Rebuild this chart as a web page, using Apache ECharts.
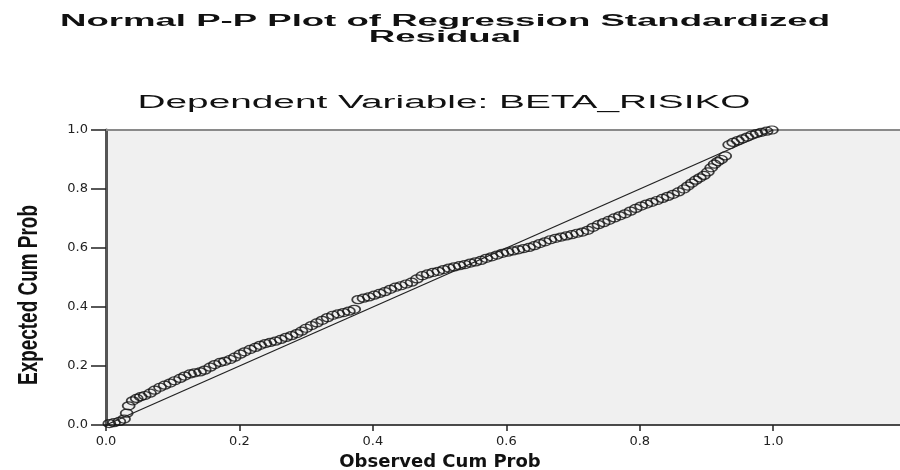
<!DOCTYPE html>
<html lang="en">
<head>
    <meta charset="UTF-8">
    <title>Normal P-P Plot</title>
    <script src="https://cdn.jsdelivr.net/npm/echarts@6/dist/echarts.min.js"></script>
</head>
<body style="margin:0;background:#fff;">
    <div id="main" style="width:900px;height:470px;"></div>
<script>
    // titles
    var titleLine1 = 'Normal P-P Plot of Regression Standardized';
    var titleLine2 = 'Residual';
    var subTitle = 'Dependent Variable: BETA_RISIKO';
    var yName = 'Expected Cum Prob';

    // ticks
    var xTicks = [0, 0.2, 0.4, 0.6, 0.8, 1.0];

    // observed cum prob (x) / expected cum prob (y)
    var observed = [
        0.005, 0.012, 0.020, 0.027, 0.031, 0.034, 0.040, 0.046, 0.052, 0.058,
        0.066, 0.073, 0.081, 0.088, 0.096, 0.103, 0.111, 0.118, 0.126, 0.133,
        0.141, 0.148, 0.156, 0.163, 0.171, 0.178, 0.186, 0.193, 0.201, 0.208,
        0.216, 0.224, 0.231, 0.239, 0.246, 0.254, 0.262, 0.270, 0.278, 0.286,
        0.293, 0.300, 0.308, 0.316, 0.324, 0.332, 0.340, 0.348, 0.356, 0.364,
        0.372, 0.378, 0.386, 0.394, 0.402, 0.410, 0.418, 0.426, 0.434, 0.442,
        0.450, 0.458, 0.466, 0.474, 0.482, 0.490, 0.498, 0.506, 0.514, 0.522,
        0.530, 0.538, 0.546, 0.554, 0.562, 0.570, 0.578, 0.586, 0.594, 0.602,
        0.610, 0.618, 0.626, 0.634, 0.642, 0.650, 0.658, 0.666, 0.674, 0.682,
        0.690, 0.698, 0.706, 0.714, 0.722, 0.730, 0.738, 0.746, 0.754, 0.762,
        0.770, 0.778, 0.786, 0.794, 0.802, 0.810, 0.818, 0.826, 0.834, 0.842,
        0.850, 0.858, 0.866, 0.872, 0.878, 0.884, 0.890, 0.896, 0.902, 0.907,
        0.912, 0.917, 0.922, 0.928, 0.934, 0.940, 0.947, 0.954, 0.961, 0.968,
        0.975, 0.982, 0.990, 0.998
    ];
    var expected = [
        0.005, 0.008, 0.012, 0.020, 0.040, 0.065, 0.082, 0.090, 0.096, 0.100,
        0.108, 0.118, 0.128, 0.135, 0.142, 0.150, 0.158, 0.166, 0.173, 0.177,
        0.180, 0.186, 0.196, 0.205, 0.212, 0.216, 0.222, 0.230, 0.240, 0.248,
        0.256, 0.263, 0.270, 0.276, 0.280, 0.284, 0.290, 0.297, 0.303, 0.310,
        0.318, 0.328, 0.337, 0.346, 0.355, 0.364, 0.372, 0.377, 0.381, 0.386,
        0.392, 0.425, 0.430, 0.434, 0.440, 0.446, 0.452, 0.460, 0.467, 0.472,
        0.478, 0.484, 0.495, 0.506, 0.512, 0.517, 0.521, 0.527, 0.532, 0.536,
        0.540, 0.544, 0.549, 0.553, 0.558, 0.565, 0.570, 0.576, 0.582, 0.586,
        0.590, 0.594, 0.598, 0.602, 0.608, 0.615, 0.621, 0.628, 0.633, 0.637,
        0.641, 0.645, 0.650, 0.654, 0.660, 0.670, 0.679, 0.686, 0.694, 0.702,
        0.709, 0.716, 0.725, 0.734, 0.742, 0.749, 0.755, 0.761, 0.768, 0.775,
        0.782, 0.790, 0.800, 0.810, 0.820, 0.830, 0.838, 0.846, 0.858, 0.872,
        0.884, 0.893, 0.900, 0.912, 0.950, 0.958, 0.964, 0.970, 0.976, 0.983,
        0.988, 0.992, 0.996, 1.000
    ];
    // reference diagonal
    var diagonal = [[0, 0], [1, 1]];

    var points = observed.map(function (x, i) { return [x, expected[i]]; });

    // the source image is stretched/squashed, so some texts get a scale along their direction
    function stretchTo(text, font, width) {
        var ctx = document.createElement('canvas').getContext('2d');
        ctx.font = font;
        return width / ctx.measureText(text).width;
    }
    var titleFont = 'bold 16px "Liberation Sans", Arial, sans-serif';
    var subFont = '18px "Liberation Sans", Arial, sans-serif';
    var yNameFont = 'bold 28px "Liberation Sans", Arial, sans-serif';
    var titleScale = stretchTo(titleLine1, titleFont, 770);
    var subScale = stretchTo(subTitle, subFont, 613);
    var yNameScale = stretchTo(yName, yNameFont, 180);

    var myChart = echarts.init(document.getElementById('main'));

    var option = {
        backgroundColor: '#ffffff',
        animation: false,
        graphic: [
            { type: 'text', x: 445, y: 22, scaleX: titleScale,
              style: { text: titleLine1, font: titleFont, fill: '#111', align: 'center', verticalAlign: 'middle' } },
            { type: 'text', x: 445, y: 38, scaleX: titleScale,
              style: { text: titleLine2, font: titleFont, fill: '#111', align: 'center', verticalAlign: 'middle' } },
            { type: 'text', x: 444, y: 103, scaleX: subScale,
              style: { text: subTitle, font: subFont, fill: '#111', align: 'center', verticalAlign: 'middle' } },
            // y axis name, squashed along its length like the source
            { type: 'text', x: 29, y: 295, rotation: Math.PI / 2, scaleX: yNameScale,
              style: { text: yName, font: yNameFont, fill: '#111', align: 'center', verticalAlign: 'middle' } }
        ],
        grid: {
            left: 106, right: 0, top: 130, bottom: 45,
            show: true, backgroundColor: '#f0f0f0', borderWidth: 0,
            outerBoundsMode: 'none'
        },
        xAxis: [{
            type: 'value', min: 0, max: 1.19,
            name: 'Observed Cum Prob',
            nameLocation: 'middle', nameGap: 24,
            nameTextStyle: { fontFamily: 'DejaVu Sans', fontWeight: 'bold', fontSize: 18, color: '#111', padding: [0, 126, 0, 0] },
            axisLine: { lineStyle: { color: '#111', width: 1.5 } },
            axisTick: { length: 6, lineStyle: { color: '#222', width: 1.5 }, customValues: xTicks },
            axisLabel: { customValues: xTicks, margin: 10, fontFamily: 'DejaVu Sans', fontSize: 13, color: '#222',
                formatter: function (v) { return v.toFixed(1); } },
            splitLine: { show: false }
        }, {
            // top frame line only
            type: 'value', position: 'top', min: 0, max: 1.19,
            axisLine: { show: true, lineStyle: { color: '#8a8a8a', width: 2 } },
            axisTick: { show: false }, axisLabel: { show: false }, splitLine: { show: false }
        }],
        yAxis: {
            type: 'value', min: 0, max: 1, interval: 0.2,
            axisLine: { show: true, lineStyle: { color: '#555', width: 3 } },
            axisTick: { show: true, length: 15, lineStyle: { color: '#222', width: 1.5 } },
            axisLabel: { margin: 18, fontFamily: 'DejaVu Sans', fontSize: 13, color: '#222',
                formatter: function (v) { return v.toFixed(1); } },
            splitLine: { show: false }
        },
        series: [{
            type: 'scatter',
            data: points,
            symbol: 'circle',
            symbolSize: [12, 8],
            itemStyle: { color: 'transparent', borderColor: '#111', borderWidth: 1.5 },
            z: 2
        }, {
            type: 'line',
            data: diagonal,
            symbol: 'none',
            lineStyle: { color: '#222', width: 1.3 },
            z: 3
        }]
    };

    myChart.setOption(option);
</script>
</body>
</html>
